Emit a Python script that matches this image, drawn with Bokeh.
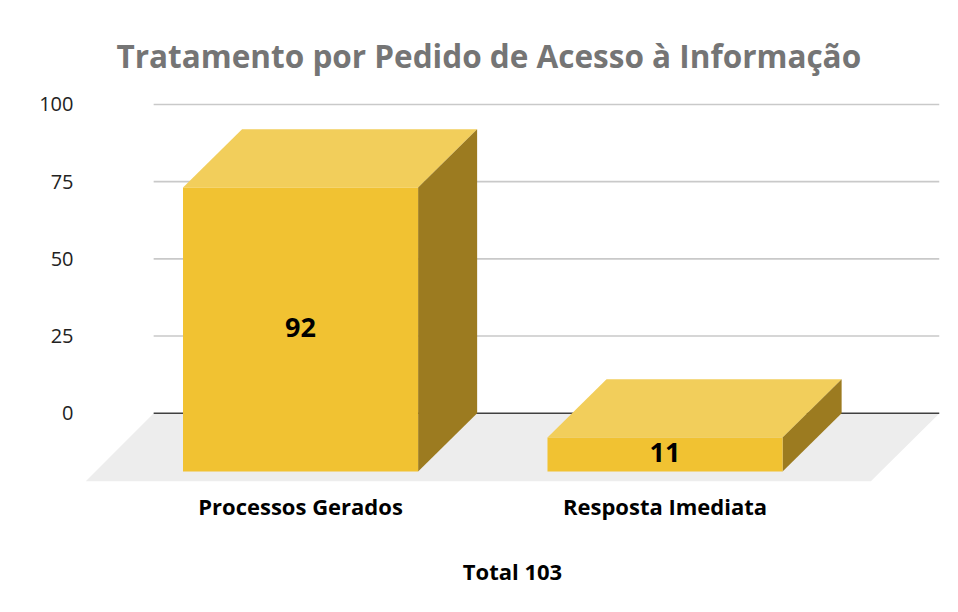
from bokeh.plotting import figure
from bokeh.embed import file_html
from bokeh.resources import INLINE
from bokeh.models import FixedTicker, Title, ColumnDataSource
from bokeh.core.properties import value

TITLE = "Tratamento por Pedido de Acesso à Informação"
categories = ["Processos Gerados", "Resposta Imediata"]
values = [92, 11]
y_ticks = [0, 25, 50, 75, 100]
total_label = "Total 103"

FONT = "Open Sans"
BAR_W = 0.645
DX = 0.162      # depth of the 3D effect, in x units
DY = 18.9       # depth of the 3D effect, in y units
X0, X1 = -0.59, 1.753
Y0, Y1 = -22.12, 102.59
WALL_L = -0.403
FLOOR_R = 1.564

p = figure(width=950, height=604, output_backend="svg", toolbar_location=None,
           x_range=(X0, X1), y_range=(Y0, Y1),
           min_border_left=85, min_border_right=11, min_border_top=96, min_border_bottom=123,
           outline_line_color=None, background_fill_color="white", border_fill_color="white")
p.grid.visible = False

# floor
p.patch([WALL_L, X1, FLOOR_R, X0], [0, 0, Y0, Y0], fill_color="#EDEDED", line_color=None)
# grid lines
grid = [t for t in y_ticks if t != 0]
p.segment([WALL_L] * len(grid), grid, [X1] * len(grid), grid, line_color="#C9C9C9", line_width=1.6)
p.segment([WALL_L], [0], [X1], [0], line_color="#404040", line_width=1.6)

# 3D bars
for i, v in enumerate(values):
    l, r = i - BAR_W / 2, i + BAR_W / 2
    p.patch([l, r, r + DX, l + DX], [v - DY, v - DY, v, v], fill_color="#F2CE5B", line_color=None)
    p.patch([r, r + DX, r + DX, r], [-DY, 0, v, v - DY], fill_color="#9C7B20", line_color=None)
    p.patch([l, r, r, l], [-DY, -DY, v - DY, v - DY], fill_color="#F1C232", line_color=None)

src = ColumnDataSource(dict(x=list(range(len(values))),
                            y=[(v - 2 * DY) / 2 for v in values],
                            t=[str(v) for v in values]))
p.text("x", "y", text="t", source=src, text_font=value(FONT), text_font_style="bold",
       text_font_size="27px", text_color="#000000", text_align="center", text_baseline="middle",
       y_offset=-2)

# axes
p.yaxis.ticker = FixedTicker(ticks=y_ticks)
p.yaxis.axis_line_color = None
p.yaxis.major_tick_line_color = None
p.yaxis.minor_tick_line_color = None
p.yaxis.major_label_standoff = 6
p.yaxis.major_label_text_font = FONT
p.yaxis.major_label_text_font_size = "20px"
p.yaxis.major_label_text_color = "#222222"

p.xaxis.ticker = FixedTicker(ticks=list(range(len(categories))))
p.xaxis.major_label_overrides = {i: c for i, c in enumerate(categories)}
p.xaxis.axis_line_color = None
p.xaxis.major_tick_line_color = None
p.xaxis.minor_tick_line_color = None
p.xaxis.major_label_standoff = 3
p.xaxis.major_label_text_font = FONT
p.xaxis.major_label_text_font_style = "bold"
p.xaxis.major_label_text_font_size = "22px"
p.xaxis.major_label_text_color = "#000000"
p.xaxis.axis_label = total_label
p.xaxis.axis_label_standoff = 32
p.xaxis.axis_label_text_font = FONT
p.xaxis.axis_label_text_font_style = "bold"
p.xaxis.axis_label_text_font_size = "22px"
p.xaxis.axis_label_text_color = "#000000"

p.title = Title(text=TITLE, align="left", offset=31, text_font=FONT, text_font_style="bold",
                text_font_size="31.5px", text_color="#757575", standoff=39)

open("out.html", "w").write(file_html(p, INLINE))
